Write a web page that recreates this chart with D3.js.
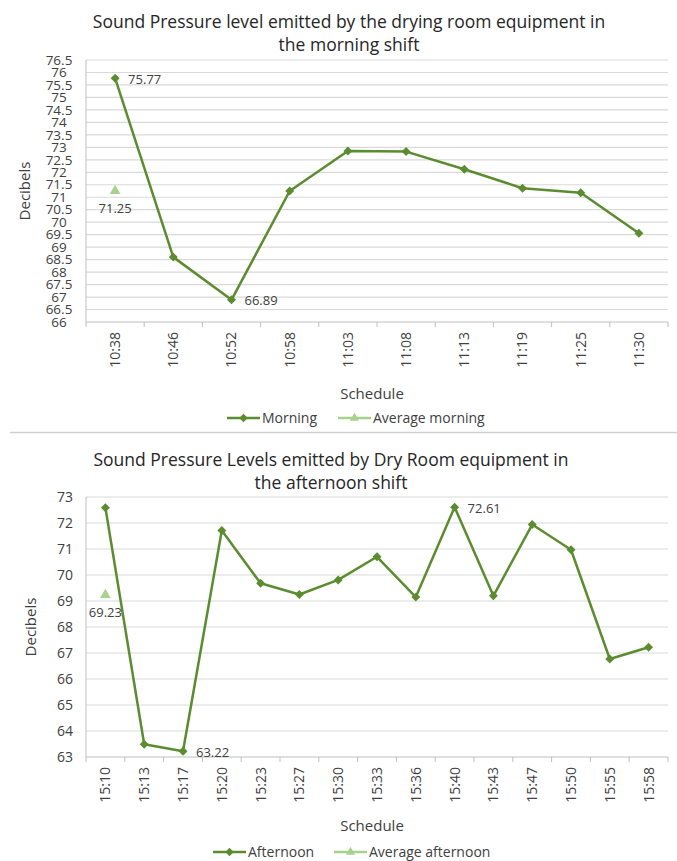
<!DOCTYPE html>
<html>
<head>
<meta charset="utf-8">
<script src="https://cdn.jsdelivr.net/npm/d3@7"></script>
<style>
  body { margin: 0; background: #fff; }
  svg { font-family: "Open Sans", "Noto Sans", sans-serif; }
</style>
</head>
<body>
<div id="chart"></div>
<script>
// morning shift
const morningTimes = ["10:38", "10:46", "10:52", "10:58", "11:03", "11:08", "11:13", "11:19", "11:25", "11:30"];
const morningValues = [75.77, 68.6, 66.89, 71.25, 72.85, 72.83, 72.12, 71.36, 71.18, 69.56];
const morningAverage = 71.25;
const morningTicks = d3.range(66, 76.51, 0.5);

// afternoon shift
const afternoonTimes = ["15:10", "15:13", "15:17", "15:20", "15:23", "15:27", "15:30", "15:33", "15:36", "15:40", "15:43", "15:47", "15:50", "15:55", "15:58"];
const afternoonValues = [72.59, 63.49, 63.22, 71.71, 69.68, 69.25, 69.81, 70.7, 69.15, 72.61, 69.2, 71.94, 70.97, 66.77, 67.22];
const afternoonAverage = 69.23;
const afternoonTicks = d3.range(63, 73.01, 1);

const green = "#5b8c30";
const lightGreen = "#a9d18e";
const textColor = "#404040";

const svg = d3.select("#chart").append("svg")
  .attr("width", 677)
  .attr("height", 861);

function drawChart(g, cfg) {
  const x = d3.scaleBand().domain(cfg.times).range([cfg.left, cfg.right]);
  const y = d3.scaleLinear().domain([cfg.ticks[0], cfg.ticks[cfg.ticks.length - 1]]).range([cfg.bottom, cfg.top]);

  // title
  const title = g.append("text")
    .attr("text-anchor", "middle")
    .attr("font-size", cfg.titleSize)
    .attr("fill", "#262626");
  cfg.title.forEach((line, i) => {
    title.append("tspan").attr("x", cfg.titleX).attr("y", cfg.titleY + i * 23).text(line);
  });

  // gridlines
  g.append("g").selectAll("line")
    .data(cfg.ticks.slice(1))
    .join("line")
    .attr("x1", cfg.left).attr("x2", cfg.right)
    .attr("y1", d => y(d)).attr("y2", d => y(d))
    .attr("stroke", "#d9d9d9").attr("stroke-width", 1.2);

  // y labels
  g.append("g").selectAll("text")
    .data(cfg.ticks)
    .join("text")
    .attr("x", cfg.yLabelX)
    .attr("y", d => y(d))
    .attr("dy", "0.35em")
    .attr("text-anchor", cfg.yLabelAnchor)
    .attr("font-size", cfg.yLabelSize)
    .attr("fill", textColor)
    .text(d => String(+d.toFixed(1)));

  // axes lines
  g.append("line")
    .attr("x1", cfg.left).attr("x2", cfg.left)
    .attr("y1", cfg.top).attr("y2", cfg.bottom)
    .attr("stroke", "#bfbfbf");
  g.append("line")
    .attr("x1", cfg.left).attr("x2", cfg.right)
    .attr("y1", cfg.bottom).attr("y2", cfg.bottom)
    .attr("stroke", "#bfbfbf");

  // x tick marks on band edges
  const edges = cfg.times.map(t => x(t)).concat([cfg.right]);
  g.append("g").selectAll("line")
    .data(edges)
    .join("line")
    .attr("x1", d => d).attr("x2", d => d)
    .attr("y1", cfg.bottom).attr("y2", cfg.bottom + 5)
    .attr("stroke", "#bfbfbf");

  // x labels, rotated
  g.append("g").selectAll("text")
    .data(cfg.times)
    .join("text")
    .attr("transform", d => `translate(${x(d) + x.bandwidth() / 2},${cfg.bottom + 10}) rotate(-90)`)
    .attr("text-anchor", "end")
    .attr("dy", "0.35em")
    .attr("font-size", 14)
    .attr("fill", textColor)
    .text(d => d);

  // axis titles
  g.append("text")
    .attr("transform", `translate(${cfg.yTitleX},${(cfg.top + cfg.bottom) / 2}) rotate(-90)`)
    .attr("text-anchor", "middle")
    .attr("font-size", 15)
    .attr("fill", textColor)
    .text("Decibels");
  g.append("text")
    .attr("x", (cfg.left + cfg.right) / 2 - 5)
    .attr("y", cfg.xTitleY)
    .attr("text-anchor", "middle")
    .attr("font-size", 15)
    .attr("fill", textColor)
    .text("Schedule");

  // series line
  const cx = t => x(t) + x.bandwidth() / 2;
  const line = d3.line().x((d, i) => cx(cfg.times[i])).y(d => y(d));
  g.append("path")
    .datum(cfg.values)
    .attr("d", line)
    .attr("fill", "none")
    .attr("stroke", green)
    .attr("stroke-width", 2.5)
    .attr("stroke-linejoin", "round");

  // diamond markers (rotated squares)
  const square = d3.symbol().type(d3.symbolSquare).size(40);
  g.append("g").selectAll("path")
    .data(cfg.values)
    .join("path")
    .attr("transform", (d, i) => `translate(${cx(cfg.times[i])},${y(d)}) rotate(45)`)
    .attr("d", square)
    .attr("fill", green);

  // value labels
  g.append("g").selectAll("text")
    .data(cfg.labelled)
    .join("text")
    .attr("x", i => cx(cfg.times[i]) + 13)
    .attr("y", i => y(cfg.values[i]) + 1)
    .attr("dy", "0.35em")
    .attr("font-size", 13)
    .attr("fill", textColor)
    .text(i => cfg.values[i].toFixed(2));

  // average point
  const ax = cx(cfg.times[0]);
  g.append("path")
    .attr("transform", `translate(${ax},${y(cfg.average)})`)
    .attr("d", d3.symbol().type(d3.symbolTriangle).size(50))
    .attr("fill", lightGreen);
  g.append("text")
    .attr("x", ax)
    .attr("y", y(cfg.average) + 22)
    .attr("text-anchor", "middle")
    .attr("font-size", 13)
    .attr("fill", textColor)
    .text(cfg.average.toFixed(2));

  // legend
  const leg = g.append("g").attr("font-size", 14).attr("fill", textColor);
  const items = [
    { name: cfg.seriesName, color: green, tri: false, x: cfg.legendX[0] },
    { name: cfg.averageName, color: lightGreen, tri: true, x: cfg.legendX[1] }
  ];
  items.forEach(it => {
    leg.append("line")
      .attr("x1", it.x).attr("x2", it.x + 33)
      .attr("y1", cfg.legendY).attr("y2", cfg.legendY)
      .attr("stroke", it.color).attr("stroke-width", 2.5);
    leg.append("path")
      .attr("transform", `translate(${it.x + 16.5},${cfg.legendY})` + (it.tri ? "" : " rotate(45)"))
      .attr("d", d3.symbol().type(it.tri ? d3.symbolTriangle : d3.symbolSquare).size(36))
      .attr("fill", it.color);
    leg.append("text")
      .attr("x", it.x + 35)
      .attr("y", cfg.legendY)
      .attr("dy", "0.35em")
      .text(it.name);
  });
}

drawChart(svg.append("g"), {
  title: ["Sound Pressure level emitted by the drying room equipment in", "the morning shift"],
  titleX: 349, titleY: 28, titleSize: 17.5,
  times: morningTimes, values: morningValues, average: morningAverage, ticks: morningTicks,
  left: 86, right: 668, top: 60, bottom: 322,
  yLabelX: 59, yLabelAnchor: "middle", yLabelSize: 13.5, yTitleX: 30, xTitleY: 399,
  labelled: [0, 2],
  seriesName: "Morning", averageName: "Average morning",
  legendX: [227, 338], legendY: 418
});

// separator between the two charts
svg.append("line")
  .attr("x1", 10).attr("x2", 677)
  .attr("y1", 432.5).attr("y2", 432.5)
  .attr("stroke", "#d0d0d0").attr("stroke-width", 1.5);

drawChart(svg.append("g"), {
  title: ["Sound Pressure Levels emitted by Dry Room equipment in", "the afternoon shift"],
  titleX: 331, titleY: 466, titleSize: 17.5,
  times: afternoonTimes, values: afternoonValues, average: afternoonAverage, ticks: afternoonTicks,
  left: 86, right: 668, top: 497, bottom: 757,
  yLabelX: 73, yLabelAnchor: "end", yLabelSize: 14, yTitleX: 36, xTitleY: 831,
  labelled: [2, 9],
  seriesName: "Afternoon", averageName: "Average afternoon",
  legendX: [213, 334], legendY: 852
});
</script>
</body>
</html>
